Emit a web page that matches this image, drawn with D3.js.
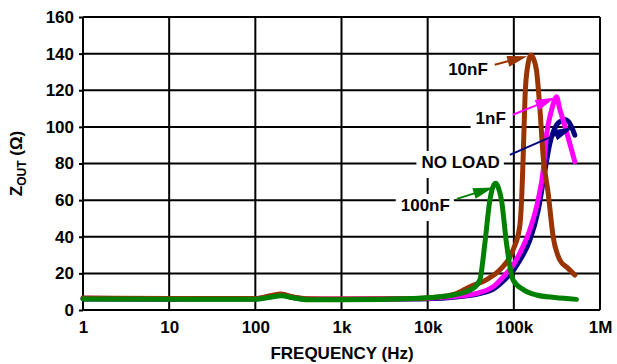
<!DOCTYPE html>
<html>
<head>
<meta charset="utf-8">
<script src="https://cdn.jsdelivr.net/npm/d3@7"></script>
<style>
  html, body { margin: 0; padding: 0; background: #fff; }
  svg { display: block; }
  text { font-family: "Liberation Sans", Arial, Helvetica, sans-serif; font-weight: bold; fill: #000; }
</style>
</head>
<body>
<svg id="chart" width="617" height="364"></svg>
<script>
// Axis ticks
const freqTicks = [1, 10, 100, 1e3, 1e4, 1e5, 1e6];
const freqTickLabels = ["1", "10", "100", "1k", "10k", "100k", "1M"];
const zTicks = [0, 20, 40, 60, 80, 100, 120, 140, 160];

// Output impedance vs frequency, one pair of arrays per load
const noLoadFreq = [1, 10, 50, 100, 150, 200, 260, 400, 1000, 5000, 10000, 20000, 40000, 60000, 82000, 100000, 117000, 153000, 191000, 219000, 262000, 313000, 360000, 391000, 430000, 467000, 510000];
const noLoadZ    = [6.0, 5.9, 6.0, 6.0, 7.3, 8.2, 7.0, 5.8, 5.8, 6.0, 6.2, 7.0, 9.0, 12.0, 17.5, 22.0, 27.0, 38.0, 54.0, 70.0, 91.0, 101.0, 103.5, 104.0, 103.0, 100.0, 95.5];

const load1nFreq = [1, 10, 50, 100, 150, 200, 260, 400, 1000, 5000, 10000, 20000, 40000, 57500, 82000, 100000, 117000, 153000, 191000, 219000, 240000, 270000, 300000, 313000, 340000, 373000, 447000, 510000];
const load1nZ    = [6.4, 6.2, 6.3, 6.2, 7.6, 8.5, 7.2, 6.0, 6.0, 6.1, 6.4, 7.3, 9.5, 12.7, 20.0, 25.0, 31.0, 43.7, 60.0, 76.0, 96.0, 108.0, 115.0, 116.5, 110.0, 103.8, 90.8, 81.0];

const load10nFreq = [1, 10, 50, 100, 150, 200, 260, 400, 1000, 5000, 10000, 20000, 30900, 50000, 68800, 98000, 117000, 124000, 128000, 136000, 147000, 157000, 170000, 183000, 200000, 219000, 250000, 286000, 342000, 420000, 510000];
const load10nZ    = [6.5, 6.3, 6.3, 6.3, 7.8, 8.8, 7.4, 6.2, 6.0, 6.2, 6.6, 8.5, 12.7, 17.0, 21.9, 32.8, 45.5, 64.0, 82.0, 120.0, 135.0, 139.3, 137.0, 131.0, 111.0, 84.0, 64.0, 40.0, 27.3, 23.0, 19.1];

const load100nFreq = [1, 10, 50, 100, 150, 200, 280, 400, 1000, 3000, 8100, 19800, 33700, 40300, 46100, 52700, 57500, 61800, 66000, 71900, 82200, 98000, 130000, 183000, 300000, 533000];
const load100nZ    = [6.0, 5.9, 5.9, 5.9, 7.0, 7.8, 6.6, 5.6, 5.6, 5.8, 6.4, 8.2, 11.8, 16.4, 36.4, 60.0, 67.5, 69.2, 67.0, 60.0, 36.4, 16.4, 11.0, 8.2, 6.8, 5.8];

const seriesNames = ["NO LOAD", "1nF", "10nF", "100nF"];
const seriesColors = ["#000080", "#ff00ff", "#993300", "#008000"];

const svg = d3.select("#chart");
const W = 617, H = 364;
const margin = { left: 83, right: 17, top: 17, bottom: 54 };

svg.append("rect").attr("width", W).attr("height", H).attr("fill", "#fff");

const x = d3.scaleLog().domain([1, 1e6]).range([margin.left, W - margin.right]);
const y = d3.scaleLinear().domain([0, 160]).range([H - margin.bottom, margin.top]);

// Grid
const grid = svg.append("g").attr("stroke", "#000").attr("stroke-width", 2);
grid.selectAll("line.v").data(freqTicks).join("line")
  .attr("class", "v")
  .attr("x1", d => x(d)).attr("x2", d => x(d))
  .attr("y1", y(0)).attr("y2", y(160));
grid.selectAll("line.h").data(zTicks).join("line")
  .attr("class", "h")
  .attr("x1", x(1)).attr("x2", x(1e6))
  .attr("y1", d => y(d)).attr("y2", d => y(d));

// Axes
const yAxis = d3.axisLeft(y).tickValues(zTicks).tickSize(4).tickPadding(5).tickFormat(d3.format("d"));
const yg = svg.append("g").attr("transform", `translate(${margin.left},0)`).call(yAxis);
yg.select(".domain").remove();
yg.selectAll(".tick line").attr("stroke", "#000").attr("stroke-width", 2);
yg.selectAll("text").attr("font-size", 17).attr("font-family", null);

const xAxis = d3.axisBottom(x).tickValues(freqTicks).tickSize(0).tickPadding(11)
  .tickFormat((d, i) => freqTickLabels[i]);
const xg = svg.append("g").attr("transform", `translate(0,${H - margin.bottom})`).call(xAxis);
xg.select(".domain").remove();
xg.selectAll("text").attr("font-size", 17).attr("font-family", null);

// Axis titles
svg.append("text")
  .attr("x", (x(1) + x(1e6)) / 2 + 0.5).attr("y", 359)
  .attr("text-anchor", "middle").attr("font-size", 17)
  .text("FREQUENCY (Hz)");

const yt = svg.append("text")
  .attr("transform", `translate(22,${(y(0) + y(160)) / 2})rotate(-90)`)
  .attr("text-anchor", "middle").attr("font-size", 17);
yt.append("tspan").text("Z");
yt.append("tspan").attr("font-size", 12).attr("dy", 4).text("OUT");
yt.append("tspan").attr("dy", -4).text(" (Ω)");

// Curves
const series = [
  { f: noLoadFreq, z: noLoadZ },
  { f: load1nFreq, z: load1nZ },
  { f: load10nFreq, z: load10nZ },
  { f: load100nFreq, z: load100nZ }
];
const line = d3.line()
  .x(d => x(d[0])).y(d => y(d[1]))
  .curve(d3.curveMonotoneX);

svg.append("g").selectAll("path").data(series).join("path")
  .attr("d", s => line(s.f.map((f, i) => [f, s.z[i]])))
  .attr("fill", "none")
  .attr("stroke", (s, i) => seriesColors[i])
  .attr("stroke-width", 5)
  .attr("stroke-linejoin", "round")
  .attr("stroke-linecap", "round");

// Callouts: label anchor and arrow ends in data units (Hz, ohms)
const callouts = [
  { name: "10nF",    label: [49900, 131.7], from: [60000, 133.9], to: [143000, 138.6] },
  { name: "1nF",     label: [80700, 104.9], from: [97300, 106.6], to: [303000, 116.0] },
  { name: "NO LOAD", label: [68800, 80.9],  from: [89900, 84.7],  to: [490000, 99.8] },
  { name: "100nF",   label: [18100, 57.4],  from: [21800, 60.7],  to: [57500, 66.9] }
];

const ann = svg.append("g");
callouts.forEach(c => {
  const color = seriesColors[seriesNames.indexOf(c.name)];
  const g = ann.append("g");
  const bg = g.append("rect").attr("fill", "#fff");
  const t = g.append("text")
    .attr("x", x(c.label[0])).attr("y", y(c.label[1]))
    .attr("dy", "0.36em")
    .attr("text-anchor", "end").attr("font-size", 17)
    .text(c.name);
  const bb = t.node().getBBox();
  bg.attr("x", bb.x - 5).attr("y", bb.y - 2).attr("width", bb.width + 9).attr("height", bb.height + 8);

  const x0 = x(c.from[0]), y0 = y(c.from[1]);
  const x1 = x(c.to[0]), y1 = y(c.to[1]);
  const dx = x1 - x0, dy = y1 - y0, len = Math.hypot(dx, dy);
  const ux = dx / len, uy = dy / len;
  const headLen = 20, headHalf = 5.5;
  const bx = x1 - ux * headLen, by = y1 - uy * headLen;
  g.append("line")
    .attr("x1", x0).attr("y1", y0).attr("x2", bx + ux * 2).attr("y2", by + uy * 2)
    .attr("stroke", color).attr("stroke-width", 2);
  g.append("path")
    .attr("d", `M${x1},${y1}L${bx - uy * headHalf},${by + ux * headHalf}L${bx + uy * headHalf},${by - ux * headHalf}Z`)
    .attr("fill", color);
});
</script>
</body>
</html>
